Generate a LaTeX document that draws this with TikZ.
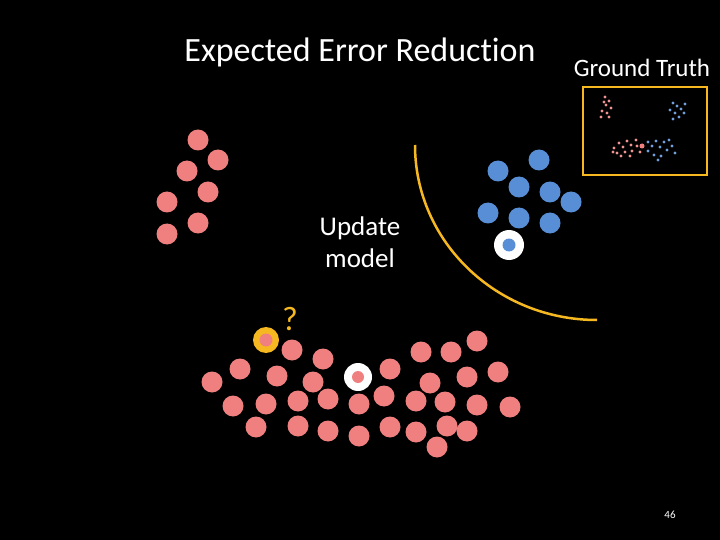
\documentclass[tikz,border=0pt]{standalone}
\usepackage{fontspec}
\setmainfont[Ligatures=NoCommon]{Carlito}
\begin{document}
\begin{tikzpicture}[x=1pt,y=-1pt,
  pk/.style={circle,fill=pinkc,minimum size=21pt,inner sep=0pt},
  bl/.style={circle,fill=bluec,minimum size=21pt,inner sep=0pt},
  spk/.style={circle,fill=pinkc!85,minimum size=3.2pt,inner sep=0pt},
  sbl/.style={circle,fill=bluec!85,minimum size=3.2pt,inner sep=0pt},
  txt/.style={text=white,inner sep=0pt,align=center}]
\definecolor{pinkc}{RGB}{240,128,128}
\definecolor{bluec}{RGB}{88,142,214}
\definecolor{yel}{RGB}{245,184,32}
\fill[black] (0,0) rectangle (720,540);
\useasboundingbox (0,0) rectangle (720,540);
\node[txt,font=\fontsize{34}{36}\selectfont] (title) at (360,52) {Expected Error Reduction};
\node[txt,font=\fontsize{25}{27}\selectfont] (gt) at (642,68) {Ground Truth};
\node[txt,font=\fontsize{27}{32}\selectfont] (upd) at (360,242) {Update\\model};
\node[txt,font=\fontsize{11}{12}\selectfont] (pg) at (670,515) {46};
\node[draw=yel,line width=2.5pt,minimum width=124pt,minimum height=88pt,inner sep=0pt] (box) at (645,131) {};
% ground truth mini dots
\foreach \i/\p in {1/{605,97},2/{609,101},3/{606,105},4/{611,108},5/{602,111},6/{607,113},
  7/{601,117},8/{609,117},9/{604,102}}
  \node[spk] (gr\i) at (\p) {};
\foreach \i/\p in {1/{673,103},2/{677,106},3/{681,109},4/{670,110},5/{675,113},6/{684,113},7/{679,117},8/{673,119},9/{685,104}}
  \node[sbl] (gb\i) at (\p) {};
\foreach \i/\p in {1/{614,148},2/{619,143},3/{623,147},4/{627,141},5/{631,145},6/{617,153},7/{625,152},8/{632,151},9/{637,146},10/{630,156},11/{621,156},12/{640,152},13/{613,152},14/{636,140}}
  \node[spk] (gc\i) at (\p) {};
\node[circle,fill=pinkc,minimum size=5pt,inner sep=0pt] (gq) at (642,146) {};
\foreach \i/\p in {1/{648,151},2/{652,146},3/{656,141},4/{660,147},5/{664,142},6/{667,150},7/{672,146},8/{654,155},9/{661,156},10/{669,140},11/{675,153},12/{648,142},13/{658,160}}
  \node[sbl] (gd\i) at (\p) {};
% top-left pink
\foreach \i/\p in {1/{198,140},2/{218,160},3/{187,171},4/{208,192},5/{167,202},6/{198,223},7/{167,234}}
  \node[pk] (a\i) at (\p) {};
% blue
\foreach \i/\p in {1/{539,160},2/{498,171},3/{519,187},4/{550,192},5/{571,202},6/{488,213},7/{519,218},8/{550,223}}
  \node[bl] (b\i) at (\p) {};
\node[circle,fill=white,minimum size=30pt,inner sep=0pt] (bw) at (509,245) {};
\node[circle,fill=bluec,minimum size=13pt,inner sep=0pt] (bwi) at (bw) {};
% bottom pink
\foreach \i/\p in {1/{212,382},2/{240,369},3/{292,350},4/{323,359},5/{277,376},6/{313,382},7/{233,406},8/{266,404},9/{298,401},10/{328,399},11/{256,427},12/{298,426},13/{328,431},14/{359,404},15/{359,436},16/{390,369},17/{384,396},18/{421,352},19/{451,352},20/{477,341},21/{430,383},22/{467,377},23/{498,372},24/{416,401},25/{445,402},26/{477,405},27/{510,407},28/{390,427},29/{416,432},30/{447,426},31/{467,431},32/{437,447}}
  \node[pk] (c\i) at (\p) {};
\node[circle,fill=white,minimum size=28pt,inner sep=0pt] (cw) at (358,377) {};
\node[circle,fill=pinkc,minimum size=12pt,inner sep=0pt] (cwi) at (cw) {};
\node[circle,fill=yel,minimum size=26pt,inner sep=0pt] (q) at (266,340) {};
\node[circle,fill=pinkc,minimum size=13pt,inner sep=0pt] (qi) at (q) {};
\node[text=yel,font=\fontsize{34}{36}\selectfont,inner sep=0pt] (qm) at (290,319) {?};
% boundary arc
\coordinate (arcs) at (415,145);
\draw[yel,line width=2.5pt] (arcs) arc[start angle=180,end angle=270,x radius=182,y radius=-175];
\end{tikzpicture}
\end{document}
